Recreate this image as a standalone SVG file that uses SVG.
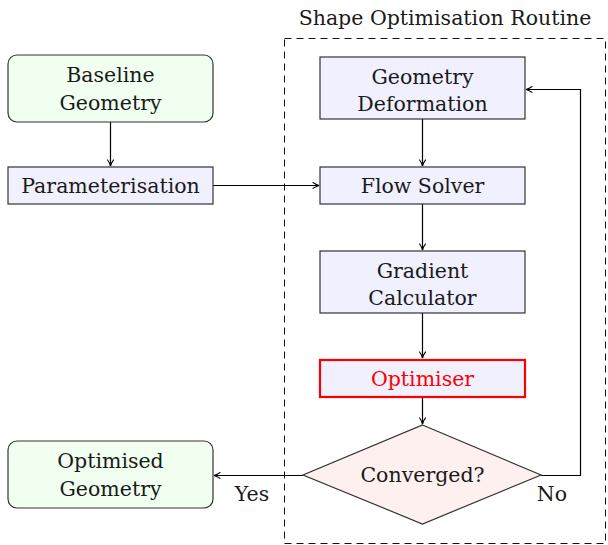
<svg xmlns="http://www.w3.org/2000/svg" width="608" height="545" viewBox="0 0 608 545">
<defs>
<marker id="ah" viewBox="0 0 10 10" refX="9" refY="5" markerWidth="8" markerHeight="8" markerUnits="userSpaceOnUse" orient="auto">
<path d="M1,1 Q5,4 9,5 Q5,6 1,9" fill="none" stroke="#000" stroke-width="1.3"/>
</marker>
<style>
text{font-size:20.5px;fill:#1a1a1a;text-anchor:middle}
.proc{fill:#f0f0ff;stroke:#333;stroke-width:1.2}
.term{fill:#f0fff0;stroke:#333;stroke-width:1.2}
.dec{fill:#fff0f0;stroke:#333;stroke-width:1.2}
.opt{fill:#f0f0ff;stroke:#ff0000;stroke-width:2.2}
.c{fill:none;stroke:#000;stroke-width:1.2}
</style>
</defs>
<g font-family="DejaVu Serif, Liberation Serif, serif">
<rect x="284.5" y="38.5" width="321" height="505" fill="none" stroke="#111" stroke-width="1" stroke-dasharray="7,5"/>
<text x="445" y="25">Shape Optimisation Routine</text>
<g id="connectors">
<line class="c" x1="110.5" y1="122" x2="110.5" y2="166" marker-end="url(#ah)"/>
<line class="c" x1="213" y1="185.5" x2="319" y2="185.5" marker-end="url(#ah)"/>
<line class="c" x1="422.5" y1="119" x2="422.5" y2="166" marker-end="url(#ah)"/>
<line class="c" x1="422.5" y1="204" x2="422.5" y2="250" marker-end="url(#ah)"/>
<line class="c" x1="422.5" y1="313" x2="422.5" y2="358" marker-end="url(#ah)"/>
<line class="c" x1="422.5" y1="397" x2="422.5" y2="424" marker-end="url(#ah)"/>
<line class="c" x1="303" y1="475.5" x2="214" y2="475.5" marker-end="url(#ah)"/>
<polyline class="c" points="541,475.5 580.5,475.5 580.5,89.5 526,89.5" marker-end="url(#ah)"/>
<text x="252" y="501">Yes</text>
<text x="552" y="501">No</text>
</g>
<g id="baseline">
<rect class="term" x="8" y="55" width="205" height="67" rx="9"/>
<text x="110.5" y="82">Baseline</text>
<text x="110.5" y="110">Geometry</text>
</g>
<g id="param">
<rect class="proc" x="8" y="167" width="205" height="37"/>
<text x="110.5" y="193">Parameterisation</text>
</g>
<g id="geomdef">
<rect class="proc" x="320" y="57" width="205" height="62"/>
<text x="422.5" y="84">Geometry</text>
<text x="422.5" y="111">Deformation</text>
</g>
<g id="flow">
<rect class="proc" x="320" y="167" width="205" height="37"/>
<text x="422.5" y="193">Flow Solver</text>
</g>
<g id="grad">
<rect class="proc" x="320" y="251" width="205" height="62"/>
<text x="422.5" y="278">Gradient</text>
<text x="422.5" y="305">Calculator</text>
</g>
<g id="optimiser">
<rect class="opt" x="320" y="360" width="205" height="37"/>
<text x="422.5" y="386" style="fill:#ff0000">Optimiser</text>
</g>
<g id="converged">
<polygon class="dec" points="422.5,425 541,475 422.5,524 303,475"/>
<text x="422.5" y="482">Converged?</text>
</g>
<g id="optgeom">
<rect class="term" x="8" y="441" width="205" height="67" rx="9"/>
<text x="110.5" y="468">Optimised</text>
<text x="110.5" y="496">Geometry</text>
</g>
</g>
</svg>
